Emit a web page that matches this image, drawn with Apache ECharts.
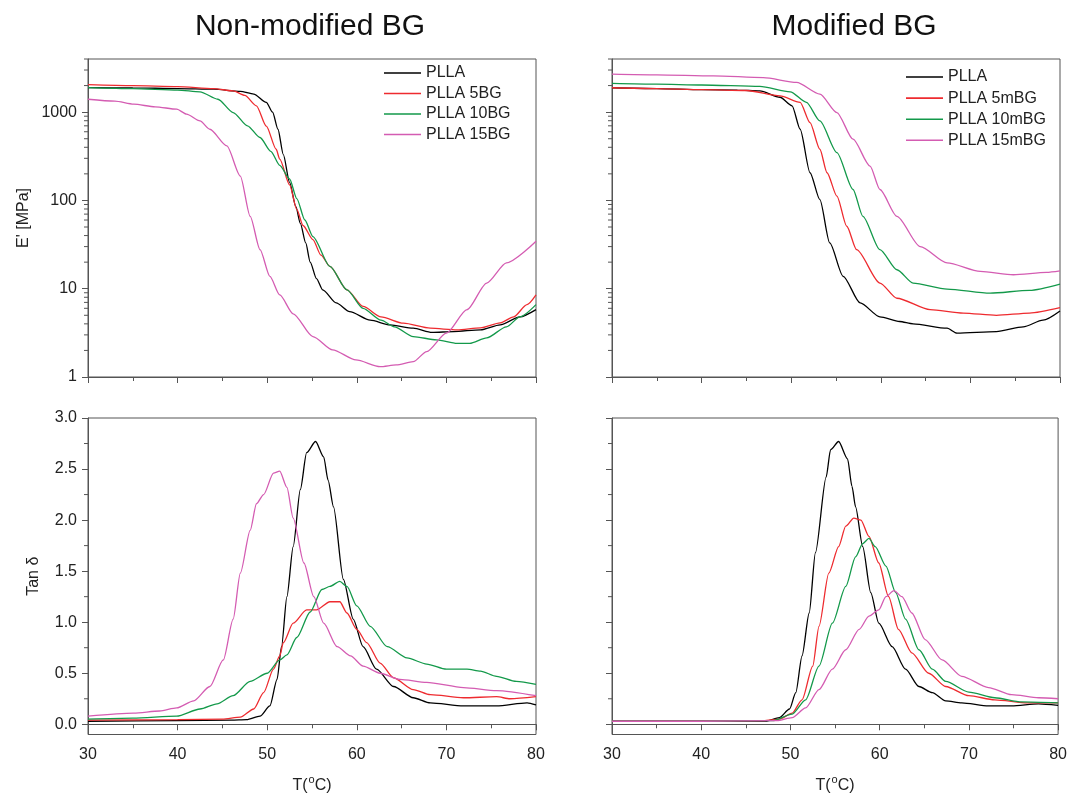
<!DOCTYPE html>
<html>
<head>
<meta charset="utf-8">
<title>DMA curves</title>
<script src="https://cdn.jsdelivr.net/npm/echarts@6/dist/echarts.min.js"></script>
<style>
  html, body { margin: 0; padding: 0; background: #fff; }
  #chart { width: 1070px; height: 795px; }
</style>
</head>
<body>
<div id="chart"></div>
<script>
// tick labels
var xTicks = [30, 40, 50, 60, 70, 80];
var logTicks = [1, 10, 100, 1000];
var logMinor = [2, 3, 4, 5, 6, 7, 8, 9, 20, 30, 40, 50, 60, 70, 80, 90,
  200, 300, 400, 500, 600, 700, 800, 900, 2000, 3000, 4000];
var tanTicks = [0, 0.5, 1.0, 1.5, 2.0, 2.5, 3.0];
var tanMinor = [0.25, 0.75, 1.25, 1.75, 2.25, 2.75];

// series names
var namesNon = ['PLLA', 'PLLA 5BG', 'PLLA 10BG', 'PLLA 15BG'];
var namesMod = ['PLLA', 'PLLA 5mBG', 'PLLA 10mBG', 'PLLA 15mBG'];
var colors = ['#000000', '#ee2b2f', '#13994a', '#d45cb2'];

// E' (MPa), non-modified BG  [T, E']
var eNonPLLA = [[30,1900],[35,1880],[40,1850],[44,1820],[47,1720],[48.5,1600],[49.9,1290],[50.6,1000],[51.2,640],[51.8,330],[52.5,160],[53.2,85],[53.7,55],[54.3,33],[54.8,20],[55.5,13],[56.2,9.7],[57.7,6.9],[59.2,5.5],[61.5,4.4],[63.7,3.9],[66.3,3.57],[68.4,3.2],[70.8,3.27],[73.8,3.42],[76,3.9],[78.2,4.8],[80,5.8]];
var eNon5 = [[30,2050],[35,2000],[40,1950],[44,1850],[46.2,1740],[47.5,1550],[48.8,1180],[49.9,695],[51,380],[51.4,293],[52.5,150],[53.3,79],[54,52],[55.1,36],[56,24],[57,17.9],[58.9,9.7],[60.7,6.3],[62.7,4.8],[65.2,4.07],[68.2,3.57],[71.2,3.42],[73.8,3.6],[76,4.1],[77.5,4.8],[79,6.6],[80,8.5]];
var eNon10 = [[30,1900],[35,1850],[40,1780],[42.5,1700],[44.5,1400],[46.2,990],[47.8,700],[49.2,516],[50.4,360],[51.4,250],[52.5,175],[53.3,105],[54.2,60],[55.1,39],[57,17.9],[58.9,9.7],[60.7,6.0],[62.7,4.4],[64.2,3.7],[66.3,2.87],[68.9,2.63],[71.2,2.4],[72.6,2.4],[74.5,2.77],[76.7,3.7],[78.2,4.8],[80,6.6]];
var eNon15 = [[30,1400],[33,1330],[35.1,1230],[37.5,1150],[39.9,1080],[41,950],[42.5,795],[43.6,640],[45.5,415],[47,189],[48.1,66],[49.2,27.7],[50.3,13.8],[51.4,8.5],[52.9,5.2],[55.1,2.87],[57.3,2.03],[59.9,1.56],[62.6,1.31],[64.4,1.37],[66.3,1.49],[67.8,1.94],[70,3.14],[72.3,5.8],[74.5,11.6],[76.7,19.6],[80,34.5]];

// E' (MPa), modified BG
var eModPLLA = [[30,1890],[35,1850],[40,1800],[44,1780],[46.5,1740],[48.75,1475],[50.1,1180],[51,640],[52.1,206],[53.2,102],[54.3,33],[55.8,13.8],[57.7,6.9],[59.9,4.8],[62.1,4.25],[63.6,4.0],[67.4,3.57],[68.5,3.14],[72.9,3.27],[75.9,3.7],[78.1,4.4],[80,5.6]];
var eMod5 = [[30,1890],[35,1850],[40,1800],[45,1760],[48.75,1530],[51,1290],[52.1,760],[53.2,380],[54,206],[55.1,112],[56.2,51],[57.3,27.7],[59.9,11.6],[61.8,7.8],[65.5,5.8],[69.2,5.3],[72.9,5.0],[76.6,5.3],[80,6.1]];
var eMod10 = [[30,2120],[35,2080],[40,2030],[46.5,1960],[49.9,1700],[51.7,1290],[53.2,795],[55.1,348],[56.9,133],[58,66],[59.9,27.7],[61.8,16.4],[63.6,11.6],[67.4,9.9],[72.2,8.9],[76.6,9.6],[80,11.3]];
var eMod15 = [[30,2700],[35,2650],[41.3,2580],[46.9,2460],[50.6,2170],[53.2,1600],[55.1,990],[56.9,494],[58.8,245],[59.9,133],[61.8,66],[64.4,30],[67.4,19.6],[71.1,15.7],[74.8,14.4],[78.5,15.3],[80,15.9]];

// tan delta, non-modified BG
var tNonPLLA = [[30,0.03],[40,0.035],[46,0.04],[47.7,0.045],[49.2,0.08],[50.3,0.18],[51.1,0.44],[51.6,0.76],[52.2,1.25],[52.9,1.74],[53.7,2.3],[54.4,2.66],[55.4,2.77],[56.3,2.62],[56.8,2.39],[57.4,2.13],[58.5,1.42],[59.6,1.03],[60.7,0.76],[62.2,0.54],[64.1,0.37],[66.3,0.26],[68.2,0.21],[71.9,0.18],[75.6,0.18],[79,0.21],[80,0.19]];
var tNon5 = [[30,0.04],[40,0.045],[45,0.05],[47,0.07],[48.5,0.15],[49.6,0.31],[50.7,0.54],[51.4,0.67],[51.8,0.8],[52.9,0.99],[54.4,1.12],[55.5,1.12],[57,1.2],[58.1,1.2],[58.9,1.09],[60,0.93],[61.1,0.8],[62.6,0.6],[64.1,0.456],[66.3,0.34],[68.2,0.29],[71.9,0.26],[75.6,0.27],[77.1,0.25],[80,0.27]];
var tNon10 = [[30,0.05],[35,0.06],[39.9,0.08],[42.5,0.15],[44.4,0.2],[46.2,0.28],[48.1,0.42],[50,0.5],[51.4,0.63],[52.2,0.68],[53.3,0.85],[54.8,1.1],[56.1,1.32],[57,1.35],[58.1,1.4],[58.9,1.35],[60,1.16],[61.5,0.96],[63.4,0.76],[65.6,0.65],[67.8,0.59],[70,0.54],[72.3,0.54],[73.8,0.52],[75.6,0.47],[77.8,0.42],[80,0.39]];
var tNon15 = [[30,0.08],[35.1,0.11],[38,0.13],[39.9,0.16],[41.8,0.23],[43.6,0.37],[45.1,0.63],[46.2,1.03],[47,1.48],[48.1,1.9],[48.8,2.16],[49.6,2.25],[50.7,2.46],[51.4,2.48],[52.2,2.32],[52.9,2.02],[54.1,1.58],[55.2,1.25],[56.3,0.99],[57.8,0.76],[59.3,0.67],[60.7,0.57],[62.6,0.5],[64.8,0.44],[67.8,0.41],[71.9,0.36],[75.6,0.33],[80,0.28]];

// tan delta, modified BG
var tModPLLA = [[30,0.03],[40,0.03],[47.3,0.03],[48.75,0.065],[49.9,0.15],[50.6,0.31],[51.3,0.67],[52.1,1.09],[52.8,1.68],[54,2.42],[54.5,2.69],[55.4,2.77],[56.4,2.6],[56.9,2.33],[57.3,2.13],[58.1,1.74],[59,1.29],[59.9,0.99],[61.4,0.76],[62.9,0.54],[64.4,0.37],[65.9,0.31],[67.4,0.23],[69.2,0.21],[72.2,0.18],[74.8,0.18],[77.8,0.2],[80,0.185]];
var tMod5 = [[30,0.03],[40,0.03],[47,0.035],[48.75,0.05],[50.2,0.11],[51.3,0.24],[52.5,0.57],[53.2,0.96],[54.3,1.48],[55.4,1.74],[56.2,1.94],[57.1,2.02],[57.9,2.0],[58.8,1.84],[59.9,1.58],[61,1.25],[62.1,0.93],[63.6,0.7],[65.5,0.5],[67.4,0.37],[70,0.28],[72.9,0.24],[76.6,0.21],[80,0.21]];
var tMod10 = [[30,0.03],[40,0.03],[48,0.035],[50.2,0.1],[51.7,0.24],[53.2,0.57],[54.7,0.99],[56.2,1.35],[57.3,1.64],[58.1,1.77],[58.8,1.82],[59.5,1.74],[60.7,1.55],[61.8,1.29],[62.9,1.03],[64.4,0.73],[65.9,0.54],[67.4,0.42],[70,0.315],[72.9,0.26],[75.9,0.22],[80,0.21]];
var tMod15 = [[30,0.03],[40,0.03],[48.5,0.035],[50.2,0.065],[51.7,0.16],[53.2,0.34],[54.7,0.54],[56.2,0.73],[57.7,0.93],[58.8,1.06],[59.9,1.12],[60.7,1.25],[61.6,1.31],[62.5,1.25],[63.6,1.09],[65.1,0.83],[67,0.63],[69.2,0.47],[72.2,0.36],[74.8,0.29],[77.8,0.26],[80,0.25]];

var font = "'Liberation Sans', Arial, sans-serif";
var axisColor = '#555';
var textColor = '#222';

var chart = echarts.init(document.getElementById('chart'));

function xAxisFor(grid, labels) {
  return {
    type: 'value', gridIndex: grid, min: 30, max: 80, interval: 10,
    axisLine: { lineStyle: { color: axisColor } },
    axisTick: { length: 6, customValues: xTicks, lineStyle: { color: axisColor } },
    minorTick: { show: true, splitNumber: 2, length: 4, lineStyle: { color: axisColor } },
    splitLine: { show: false },
    axisLabel: { show: labels, customValues: xTicks, margin: 12, fontSize: 16, fontFamily: font, color: textColor },
    name: labels ? 'T({sup|o}C)' : '', nameLocation: 'middle', nameGap: 40,
    nameTextStyle: {
      fontSize: 16, fontFamily: font, color: textColor,
      rich: { sup: { fontSize: 11, fontFamily: font, color: textColor, padding: [0, 0, 12, 1] } }
    }
  };
}

function logAxisFor(grid, labels) {
  return {
    type: 'log', logBase: 10, gridIndex: grid, min: 1, max: 4000,
    axisLine: { lineStyle: { color: axisColor } },
    axisTick: { length: 6, customValues: logTicks, lineStyle: { color: axisColor } },
    splitLine: { show: false },
    axisLabel: {
      show: labels, customValues: logTicks, margin: 11, fontSize: 16, fontFamily: font, color: textColor,
      formatter: function (v) { return String(Math.round(v)); }
    },
    name: labels ? "E' [MPa]" : '', nameLocation: 'middle', nameGap: 56,
    nameTextStyle: { fontSize: 16, fontFamily: font, color: textColor }
  };
}

function tanAxisFor(grid, labels) {
  return {
    type: 'value', gridIndex: grid, min: -0.1, max: 3.0,
    axisLine: { lineStyle: { color: axisColor } },
    axisTick: { length: 6, customValues: tanTicks, lineStyle: { color: axisColor } },
    splitLine: { show: false },
    axisLabel: {
      show: labels, customValues: tanTicks, margin: 11, fontSize: 16, fontFamily: font, color: textColor,
      formatter: function (v) { return v.toFixed(1); }
    },
    name: labels ? 'Tan δ' : '', nameLocation: 'middle', nameGap: 46,
    nameTextStyle: { fontSize: 16, fontFamily: font, color: textColor }
  };
}

// short outward minor ticks on the left axis, placed through the axis scale
function minorTicks(idx, values) {
  return {
    type: 'custom', xAxisIndex: idx, yAxisIndex: idx, silent: true, clip: false,
    data: values.map(function (v) { return [30, v]; }),
    renderItem: function (params, api) {
      var p = api.coord([api.value(0), api.value(1)]);
      return {
        type: 'line',
        shape: { x1: p[0] - 4, y1: p[1], x2: p[0], y2: p[1] },
        style: { stroke: axisColor, lineWidth: 1 }
      };
    }
  };
}

function lineSeries(name, data, idx, color) {
  return {
    name: name, type: 'line', data: data, xAxisIndex: idx, yAxisIndex: idx,
    symbol: 'none', smooth: 0.25, smoothMonotone: 'x',
    lineStyle: { width: 1.3, color: color }, itemStyle: { color: color }
  };
}

var series = [];
[eNonPLLA, eNon5, eNon10, eNon15].forEach(function (d, i) { series.push(lineSeries(namesNon[i], d, 0, colors[i])); });
[eModPLLA, eMod5, eMod10, eMod15].forEach(function (d, i) { series.push(lineSeries(namesMod[i], d, 1, colors[i])); });
[tNonPLLA, tNon5, tNon10, tNon15].forEach(function (d, i) { series.push(lineSeries(namesNon[i], d, 2, colors[i])); });
[tModPLLA, tMod5, tMod10, tMod15].forEach(function (d, i) { series.push(lineSeries(namesMod[i], d, 3, colors[i])); });
series.push(minorTicks(0, logMinor));
series.push(minorTicks(1, logMinor));
series.push(minorTicks(2, tanMinor));
series.push(minorTicks(3, tanMinor));

var gridStyle = { show: true, borderColor: axisColor, borderWidth: 1, backgroundColor: 'transparent' };

var legendBase = {
  orient: 'vertical', icon: 'rect', itemWidth: 37, itemHeight: 1.6,
  textStyle: { fontSize: 16, fontFamily: font, color: textColor }
};

var option = {
  animation: false,
  backgroundColor: '#fff',
  textStyle: { fontFamily: font },
  graphic: [
    { type: 'text', x: 310, y: 27, style: { text: 'Non-modified BG', fontSize: 30, fontFamily: font, fill: '#111', align: 'center', verticalAlign: 'middle' } },
    { type: 'text', x: 854, y: 27, style: { text: 'Modified BG', fontSize: 30, fontFamily: font, fill: '#111', align: 'center', verticalAlign: 'middle' } }
  ],
  legend: [
    Object.assign({ data: namesNon, left: 379, top: 60, itemGap: 4.5 }, legendBase),
    Object.assign({ data: namesMod, left: 901, top: 64, itemGap: 5.1 }, legendBase)
  ],
  grid: [
    Object.assign({ left: 88, top: 59, width: 448, height: 318 }, gridStyle),
    Object.assign({ left: 612, top: 59, width: 448, height: 318 }, gridStyle),
    Object.assign({ left: 88, top: 418, width: 448, height: 317 }, gridStyle),
    Object.assign({ left: 612, top: 418, width: 448, height: 317 }, gridStyle)
  ],
  xAxis: [xAxisFor(0, false), xAxisFor(1, false), xAxisFor(2, true), xAxisFor(3, true)],
  yAxis: [logAxisFor(0, true), logAxisFor(1, false), tanAxisFor(2, true), tanAxisFor(3, false)],
  series: series
};

chart.setOption(option);
</script>
</body>
</html>
